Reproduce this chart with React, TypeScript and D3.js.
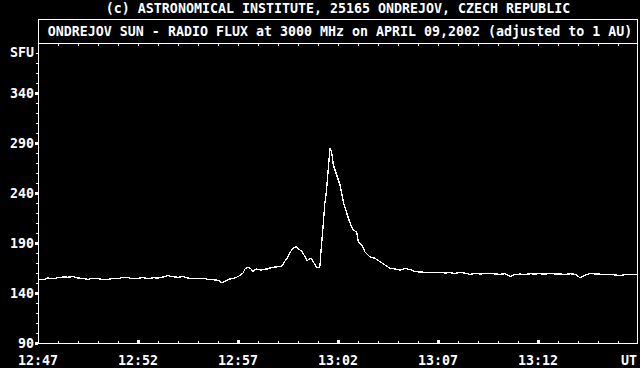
import React from "react";
import * as d3 from "d3";

// seconds after 12:47:00 UT
const times: number[] = [
  0, 15, 30, 45, 60, 75, 90, 105, 120, 135, 150, 165, 180, 195, 210, 225, 240, 255, 270, 285,
  300, 315, 330, 345, 360, 375, 390, 405, 420, 435, 450, 465, 480, 495, 510, 525, 540, 552, 564, 576,
  591, 606, 615, 621, 630, 639, 645, 654, 660, 669, 678, 687, 696, 705, 714, 723, 732, 741, 750, 759,
  768, 774, 780, 786, 792, 801, 807, 816, 822, 828, 834, 843, 846, 850, 855, 860, 865, 870, 876, 879,
  881, 886, 896, 906, 916, 926, 936, 946, 956, 961, 971, 981, 996, 1011, 1026, 1041, 1056, 1071, 1086, 1101,
  1116, 1131, 1146, 1161, 1176, 1191, 1206, 1221, 1236, 1251, 1266, 1281, 1296, 1311, 1326, 1341, 1356, 1371, 1386, 1401,
  1416, 1431, 1446, 1461, 1476, 1491, 1506, 1521, 1536, 1551, 1566, 1581, 1596, 1611, 1626, 1641, 1656, 1671, 1686, 1701,
  1716, 1731, 1746, 1761, 1776, 1791, 1800,
];

// radio flux, SFU
const flux: number[] = [
  153.7, 153.2, 155.0, 154.2, 155.3, 156.0, 155.8, 156.4, 155.0, 154.6, 153.7, 154.8, 154.3, 153.4, 153.7, 154.6, 154.3, 155.7, 155.3, 154.2,
  154.7, 155.5, 154.3, 155.2, 155.0, 156.0, 157.3, 156.3, 155.7, 156.4, 155.0, 154.4, 154.3, 154.8, 153.7, 153.2, 152.7, 150.3, 152.5, 154.0,
  155.0, 157.5, 160.0, 164.0, 165.7, 164.0, 161.3, 164.0, 163.5, 163.0, 163.8, 164.0, 165.0, 165.7, 166.0, 166.5, 167.0, 172.0, 176.3, 182.0,
  185.5, 186.3, 184.7, 183.0, 181.3, 176.3, 172.0, 174.7, 173.5, 170.0, 166.3, 165.0, 168.0, 186.0, 206.0, 228.0, 241.0, 261.0, 285.0, 283.0,
  281.0, 268.0, 258.0, 248.0, 231.0, 220.0, 210.0, 203.0, 201.0, 191.0, 188.0, 181.0, 176.0, 174.7, 171.3, 168.0, 164.7, 164.0, 163.0, 164.5,
  163.5, 161.3, 161.0, 160.7, 160.2, 160.8, 160.5, 160.0, 160.3, 159.6, 160.5, 159.8, 158.7, 159.5, 159.0, 159.3, 159.7, 159.0, 158.7, 159.2,
  156.5, 158.5, 158.9, 158.6, 159.2, 159.0, 159.3, 158.8, 159.7, 159.0, 159.0, 158.6, 159.2, 158.8, 155.3, 158.0, 159.5, 159.0, 158.9, 158.3,
  158.5, 158.0, 157.5, 158.3, 158.8, 158.5, 158.0,
];

const yTickValues: number[] = [90, 140, 190, 240, 290, 340];
const xTickLabels: string[] = ["12:47", "12:52", "12:57", "13:02", "13:07", "13:12"];
const creditText = "(c) ASTRONOMICAL INSTITUTE, 25165 ONDREJOV, CZECH REPUBLIC";
const titleText = "ONDREJOV SUN - RADIO FLUX at 3000 MHz on APRIL 09,2002 (adjusted to 1 AU)";

const W = 640;
const H = 368;
const L = 38;
const R = 638;
const T = 43;
const B = 343;
const FONT = "'DejaVu Sans Mono', 'Liberation Mono', monospace";

export default function App() {
  const x = d3.scaleLinear().domain([0, 1800]).range([L, R]);
  const y = d3.scaleLinear().domain([90, 390]).range([B, T]);
  const line = d3
    .line<number>()
    .x((_, i) => x(times[i]))
    .y((d) => y(d));

  const minorX = d3.range(60, 1800, 60);
  const majorX = d3.range(0, 1800, 300);
  const minorY = d3.range(100, 390, 10).filter((v) => (v - 90) % 50 !== 0);

  const textStyle = { fontFamily: FONT, fontSize: 13.3, fontWeight: "bold" as const, fill: "#fff" };

  return (
    <svg
      width={W}
      height={H}
      style={{ position: "fixed", left: 0, top: 0, background: "#000", display: "block" }}
    >
      <rect x={0} y={0} width={W} height={H} fill="#000" />
      <text x={(L + R) / 2} y={13} textAnchor="middle" {...textStyle}>
        {creditText}
      </text>
      {/* title box */}
      <rect x={L + 0.5} y={19.5} width={R - L - 1} height={T - 19} fill="none" stroke="#fff" strokeWidth={1} />
      <text x={(L + R) / 2 + 2} y={36} textAnchor="middle" {...textStyle}>
        {titleText}
      </text>
      {/* plot frame */}
      <rect x={L + 0.5} y={T + 0.5} width={R - L - 1} height={B - T} fill="none" stroke="#fff" strokeWidth={1} />
      {/* top minor ticks */}
      {minorX.map((t) => (
        <rect key={"tt" + t} x={Math.round(x(t))} y={T + 1} width={1} height={2} fill="#fff" />
      ))}
      {/* bottom ticks */}
      {minorX.map((t) =>
        (t % 300 === 0) ? (
          <rect key={"bm" + t} x={Math.round(x(t)) - 1} y={B - 3} width={3} height={4} fill="#fff" />
        ) : (
          <rect key={"bt" + t} x={Math.round(x(t))} y={B - 2} width={1} height={2} fill="#fff" />
        )
      )}
      {/* y ticks */}
      {yTickValues.map((v) => (
        <rect key={"ym" + v} x={L - 3} y={Math.round(y(v)) - 1} width={3} height={3} fill="#fff" />
      ))}
      {minorY.map((v) => (
        <rect key={"yn" + v} x={L - 2} y={Math.round(y(v))} width={2} height={1} fill="#fff" />
      ))}
      {yTickValues.map((v) => (
        <text key={"yl" + v} x={34} y={y(v) + 5} textAnchor="end" {...textStyle}>
          {v}
        </text>
      ))}
      <text x={34} y={57} textAnchor="end" {...textStyle}>
        SFU
      </text>
      {majorX.map((t, i) => (
        <text key={"xl" + t} x={x(t)} y={365} textAnchor="middle" {...textStyle}>
          {xTickLabels[i]}
        </text>
      ))}
      <text x={637} y={365} textAnchor="end" {...textStyle}>
        UT
      </text>
      <path
        d={line(flux) || ""}
        fill="none"
        stroke="#fff"
        strokeWidth={1.3}
        strokeLinejoin="round"
        shapeRendering="crispEdges"
      />
    </svg>
  );
}
